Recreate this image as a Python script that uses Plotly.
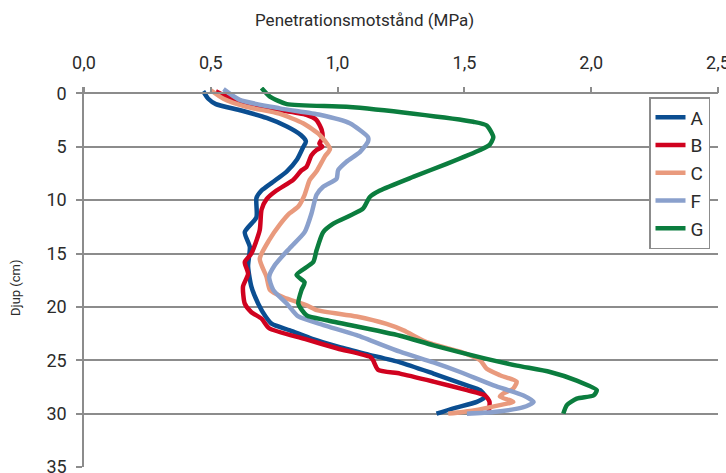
import plotly.graph_objects as go

# Depth (cm) and penetration resistance (MPa) per treatment
depth_A = [-0.2, 0.5, 1.0, 1.6, 2.3, 3.1, 3.9, 4.5, 5.0, 6.2, 7.3, 8.3, 9.1, 9.8, 11.6, 13.0, 14.4, 16.2, 18.1, 19.7, 20.9, 21.6, 22.2, 23.0, 23.75, 24.4, 25.2, 26.25, 27.35, 27.8, 28.4, 28.9, 29.5, 30.0]
val_A = [0.47, 0.49, 0.52, 0.62, 0.72, 0.80, 0.855, 0.875, 0.865, 0.84, 0.80, 0.745, 0.70, 0.68, 0.68, 0.634, 0.654, 0.647, 0.66, 0.687, 0.716, 0.741, 0.812, 0.90, 1.005, 1.11, 1.246, 1.378, 1.51, 1.562, 1.582, 1.549, 1.457, 1.39]

depth_B = [-0.2, 0.3, 0.8, 1.2, 1.56, 2.0, 2.5, 3.4, 4.2, 4.7, 5.0, 5.3, 5.8, 6.9, 7.2, 8.1, 9.1, 9.9, 10.9, 12.8, 15.0, 15.8, 16.9, 18.1, 19.7, 20.5, 21.1, 22.0, 23.0, 23.9, 24.7, 25.0, 25.9, 26.25, 27.0, 27.8, 28.3, 28.9, 30.0]
val_B = [0.52, 0.562, 0.614, 0.667, 0.772, 0.877, 0.917, 0.937, 0.94, 0.928, 0.94, 0.917, 0.897, 0.877, 0.858, 0.825, 0.759, 0.72, 0.70, 0.693, 0.66, 0.634, 0.647, 0.627, 0.634, 0.66, 0.70, 0.73, 0.87, 1.0, 1.13, 1.14, 1.16, 1.246, 1.378, 1.51, 1.582, 1.599, 1.595]

depth_C = [-0.3, 0.5, 1.25, 1.9, 2.8, 3.9, 5.2, 5.9, 7.3, 8.1, 9.5, 10.6, 11.25, 12.3, 13.75, 15.5, 17.2, 18.4, 19.1, 19.85, 20.3, 20.9, 21.6, 22.2, 23.3, 24.2, 25.0, 25.8, 26.4, 27.0, 27.65, 28.1, 28.4, 28.9, 29.2, 29.7, 30.0]
val_C = [0.50, 0.55, 0.64, 0.77, 0.864, 0.93, 0.97, 0.95, 0.917, 0.89, 0.87, 0.845, 0.81, 0.772, 0.73, 0.693, 0.72, 0.733, 0.786, 0.878, 0.918, 1.075, 1.193, 1.26, 1.351, 1.483, 1.562, 1.588, 1.64, 1.706, 1.693, 1.654, 1.64, 1.693, 1.64, 1.536, 1.436]

depth_F = [-0.4, 0.6, 1.4, 2.0, 2.8, 4.1, 4.5, 5.5, 6.4, 7.2, 8.0, 8.75, 9.5, 10.6, 11.25, 13.0, 14.5, 16.1, 17.2, 18.4, 19.7, 20.9, 21.7, 22.65, 24.2, 25.2, 26.1, 27.35, 28.3, 28.9, 29.4, 29.85, 30.0]
val_F = [0.55, 0.614, 0.772, 0.93, 1.048, 1.12, 1.12, 1.088, 1.035, 1.002, 0.996, 0.943, 0.917, 0.904, 0.897, 0.87, 0.811, 0.752, 0.73, 0.746, 0.80, 0.845, 0.944, 1.075, 1.246, 1.378, 1.483, 1.615, 1.733, 1.773, 1.733, 1.615, 1.51]

depth_G = [-0.5, 0.3, 1.0, 1.25, 1.9, 2.66, 3.0, 4.1, 4.8, 5.3, 6.6, 7.8, 9.1, 9.7, 10.8, 12.2, 13.0, 14.7, 15.8, 17.0, 17.7, 18.4, 19.7, 20.8, 21.25, 22.7, 23.6, 24.8, 25.5, 26.1, 26.9, 27.8, 28.3, 28.6, 29.2, 30.0]
val_G = [0.70, 0.733, 0.80, 1.035, 1.30, 1.535, 1.588, 1.614, 1.60, 1.562, 1.43, 1.30, 1.167, 1.127, 1.10, 0.983, 0.943, 0.917, 0.904, 0.838, 0.87, 0.858, 0.845, 0.878, 0.957, 1.246, 1.378, 1.575, 1.707, 1.838, 1.943, 2.022, 2.009, 1.943, 1.904, 1.89]

names = ["A", "B", "C", "F", "G"]
colors = ["#0b4e91", "#d0021f", "#e99a7d", "#8aa0cc", "#0b7d3e"]
x_ticks = [0.0, 0.5, 1.0, 1.5, 2.0, 2.5]
y_ticks = [0, 5, 10, 15, 20, 25, 30, 35]

FONT = "Roboto, sans-serif"
TXT = "#2b2b2b"
GRID = "#8c8c8c"

series = [(depth_A, val_A), (depth_B, val_B), (depth_C, val_C), (depth_F, val_F), (depth_G, val_G)]

fig = go.Figure()
for (d, v), n, c in zip(series, names, colors):
    fig.add_trace(go.Scatter(x=v, y=d, name=n, mode="lines",
                             line=dict(color=c, width=4.5, shape="spline", smoothing=0.6)))

fig.update_layout(
    width=726, height=473,
    margin=dict(l=84, r=8, t=87, b=6, autoexpand=False),
    paper_bgcolor="white", plot_bgcolor="white",
    separators=", ",
    font=dict(family=FONT, color=TXT, size=18),
    showlegend=True,
    legend=dict(x=(649 - 84) / 634, y=(467 - 97) / 380, xanchor="left", yanchor="top",
                bgcolor="white", bordercolor=GRID, borderwidth=1.5,
                font=dict(family=FONT, size=19, color=TXT),
                tracegroupgap=0, itemwidth=30),
    xaxis=dict(range=[0, 2.5], side="top", anchor="free", position=35 / 35.6,
               tickvals=x_ticks, tickformat=".1f", automargin=False,
               showline=True, linecolor=GRID, linewidth=1.5,
               ticks="outside", ticklen=6, tickcolor=GRID, tickwidth=1.5,
               ticklabelstandoff=10, ticklabeloverflow="allow",
               showgrid=False, zeroline=False,
               tickfont=dict(family=FONT, size=18, color=TXT)),
    yaxis=dict(range=[35, -0.6], tickvals=y_ticks, automargin=False,
               showline=True, linecolor=GRID, linewidth=1.5,
               ticks="outside", ticklen=6, tickcolor=GRID, tickwidth=1.5,
               ticklabelstandoff=6, ticklabeloverflow="allow",
               showgrid=True, gridcolor=GRID, gridwidth=1.5, zeroline=False,
               tickfont=dict(family=FONT, size=18, color=TXT)),
    annotations=[
        dict(text="Penetrationsmotstånd (MPa)", xref="paper", yref="paper",
             x=(364 - 84) / 634, y=(467 - 20) / 380, xanchor="center", yanchor="middle",
             showarrow=False, font=dict(family=FONT, size=17, color=TXT)),
        dict(text="Djup (cm)", xref="paper", yref="paper",
             x=(15 - 84) / 634, y=(467 - 288) / 380, xanchor="center", yanchor="middle",
             textangle=-90, showarrow=False, font=dict(family=FONT, size=13, color=TXT)),
    ],
)

fig.write_html("out.html", config={"displayModeBar": False},
               post_script="document.body.style.margin='0px';")
